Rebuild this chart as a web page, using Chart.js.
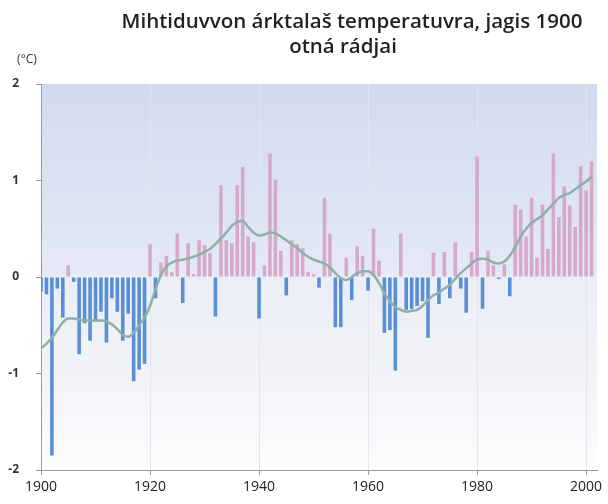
<!DOCTYPE html>
<html>
<head>
<meta charset="utf-8">
<script src="https://cdn.jsdelivr.net/npm/chart.js@4"></script>
<style>
  html, body { margin: 0; padding: 0; background: #ffffff; }
  #wrap { width: 608px; height: 504px; }
</style>
</head>
<body>
<div id="wrap"><canvas id="c" width="608" height="504"></canvas></div>
<script>
const titleLines = ["Mihtiduvvon árktalaš temperatuvra, jagis 1900", "otná rádjai"];
const unitLabel = "(°C)";
const xTickYears = [1900, 1920, 1940, 1960, 1980, 2000];
const yTickValues = [-2, -1, 0, 1, 2];

const years = [
  1900,1901,1902,1903,1904,1905,1906,1907,1908,1909,
  1910,1911,1912,1913,1914,1915,1916,1917,1918,1919,
  1920,1921,1922,1923,1924,1925,1926,1927,1928,1929,
  1930,1931,1932,1933,1934,1935,1936,1937,1938,1939,
  1940,1941,1942,1943,1944,1945,1946,1947,1948,1949,
  1950,1951,1952,1953,1954,1955,1956,1957,1958,1959,
  1960,1961,1962,1963,1964,1965,1966,1967,1968,1969,
  1970,1971,1972,1973,1974,1975,1976,1977,1978,1979,
  1980,1981,1982,1983,1984,1985,1986,1987,1988,1989,
  1990,1991,1992,1993,1994,1995,1996,1997,1998,1999,
  2000,2001
];

const anomalies = [
  -0.15,-0.18,-1.85,-0.12,-0.42, 0.12,-0.05,-0.80,-0.48,-0.66,
  -0.45,-0.36,-0.68,-0.22,-0.36,-0.66,-0.38,-1.08,-0.96,-0.90,
   0.34,-0.22, 0.15, 0.22, 0.05, 0.45,-0.27, 0.35, 0.03, 0.38,
   0.33, 0.25,-0.41, 0.95, 0.38, 0.35, 0.95, 1.14, 0.42, 0.36,
  -0.43, 0.12, 1.28, 1.01, 0.27,-0.19, 0.38, 0.34, 0.30, 0.05,
   0.03,-0.11, 0.82, 0.45,-0.52,-0.52, 0.20,-0.24, 0.32, 0.22,
  -0.14, 0.50, 0.17,-0.58,-0.55,-0.97, 0.45,-0.34,-0.33,-0.30,
  -0.25,-0.63, 0.25,-0.28, 0.26,-0.22, 0.36,-0.12,-0.37, 0.26,
   1.25,-0.33, 0.27, 0.12,-0.02, 0.13,-0.20, 0.75, 0.70, 0.42,
   0.82, 0.20, 0.75, 0.29, 1.28, 0.62, 0.94, 0.74, 0.52, 1.15,
   0.90, 1.20
];

const smoothed = [
  -0.74,-0.69,-0.63,-0.55,-0.47,-0.43,-0.43,-0.44,-0.45,-0.45,
  -0.45,-0.45,-0.46,-0.49,-0.54,-0.60,-0.62,-0.58,-0.50,-0.42,
  -0.30,-0.13, 0.02, 0.11, 0.15, 0.17, 0.18, 0.19, 0.21, 0.23,
   0.26, 0.29, 0.34, 0.40, 0.46, 0.53, 0.57, 0.58, 0.52, 0.46,
   0.43, 0.44, 0.46, 0.45, 0.42, 0.38, 0.34, 0.30, 0.25, 0.21,
   0.18, 0.16, 0.14, 0.10, 0.04,-0.01,-0.03, 0.00, 0.04, 0.06,
   0.06, 0.02,-0.06,-0.17,-0.25,-0.31,-0.34,-0.36,-0.35,-0.34,
  -0.30,-0.24,-0.19,-0.16,-0.12,-0.08,-0.02, 0.04, 0.09, 0.14,
   0.18, 0.19, 0.18, 0.15, 0.14, 0.16, 0.22, 0.31, 0.42, 0.50,
   0.56, 0.60, 0.64, 0.70, 0.76, 0.82, 0.85, 0.87, 0.91, 0.95,
   0.99, 1.04
];

const PINK = '#d6a9cb';
const BLUE = '#5b8fd5';
const LINE = '#8db1a6';

const barPoints = years.map((yr, i) => ({ x: yr, y: anomalies[i] }));
const linePoints = years.map((yr, i) => ({ x: yr, y: smoothed[i] }));

const bgPlugin = {
  id: 'bg',
  beforeDraw(chart) {
    const { ctx, chartArea: a, scales } = chart;
    const y0 = scales.y.getPixelForValue(0);
    const t = (y0 - a.top) / (a.bottom - a.top);
    const g = ctx.createLinearGradient(0, a.top, 0, a.bottom);
    g.addColorStop(0, '#d1daee');
    g.addColorStop(Math.max(0, t - 0.01), '#e4e9f4');
    g.addColorStop(t, '#ebeef6');
    g.addColorStop(Math.min(1, t + 0.25), '#f1f3f8');
    g.addColorStop(1, '#fdfdfe');
    ctx.save();
    ctx.fillStyle = g;
    ctx.fillRect(a.left, a.top, a.right - a.left, a.bottom - a.top);
    ctx.restore();
  }
};

const textPlugin = {
  id: 'texts',
  afterDraw(chart) {
    const ctx = chart.ctx;
    ctx.save();
    ctx.fillStyle = '#222222';
    ctx.textAlign = 'center';
    ctx.textBaseline = 'middle';
    ctx.font = '600 20.5px "Open Sans", "Noto Sans", sans-serif';
    ctx.fillText(titleLines[0], 352, 22);
    ctx.fillText(titleLines[1], 343, 47);
    ctx.font = '12px "Open Sans", "Noto Sans", sans-serif';
    ctx.fillStyle = '#333333';
    ctx.fillText(unitLabel, 27, 60);
    ctx.restore();
  }
};

new Chart(document.getElementById('c'), {
  data: {
    datasets: [
      {
        type: 'line',
        data: linePoints,
        borderColor: LINE,
        borderWidth: 2.5,
        pointRadius: 0,
        cubicInterpolationMode: 'monotone',
        fill: false,
        order: 0
      },
      {
        type: 'bar',
        data: barPoints,
        backgroundColor: ctx => (ctx.raw && ctx.raw.y >= 0 ? PINK : BLUE),
        borderWidth: 0,
        barPercentage: 0.66,
        categoryPercentage: 1,
        order: 1
      }
    ]
  },
  options: {
    responsive: false,
    animation: false,
    layout: { padding: { top: 84, right: 11, left: 0, bottom: 0 } },
    plugins: { legend: { display: false }, tooltip: { enabled: false }, title: { display: false } },
    scales: {
      x: {
        type: 'linear',
        offset: false,
        min: 1900,
        max: 2002,
        afterBuildTicks: s => { s.ticks = xTickYears.map(v => ({ value: v })); },
        afterFit: s => { s.height = 34; },
        ticks: {
          color: '#222222',
          font: { family: '"Open Sans", "Noto Sans", sans-serif', size: 14 },
          padding: 4,
          maxRotation: 0,
          autoSkip: false,
          callback: v => String(v)
        },
        grid: { offset: false, color: '#e3e5ec', tickColor: '#9a9a9a', tickLength: 5, drawOnChartArea: true },
        border: { display: true, color: '#9a9a9a', width: 1 }
      },
      y: {
        min: -2,
        max: 2,
        afterBuildTicks: s => { s.ticks = yTickValues.map(v => ({ value: v })); },
        afterFit: s => { s.width = 41; },
        ticks: {
          color: '#333333',
          font: { family: '"Open Sans", "Noto Sans", sans-serif', size: 12, weight: 'bold' },
          padding: 17,
          callback: v => String(v)
        },
        grid: { drawOnChartArea: false, tickColor: '#9a9a9a', tickLength: 5 },
        border: { display: true, color: '#9a9a9a', width: 1 }
      }
    }
  },
  plugins: [bgPlugin, textPlugin]
});
</script>
</body>
</html>
